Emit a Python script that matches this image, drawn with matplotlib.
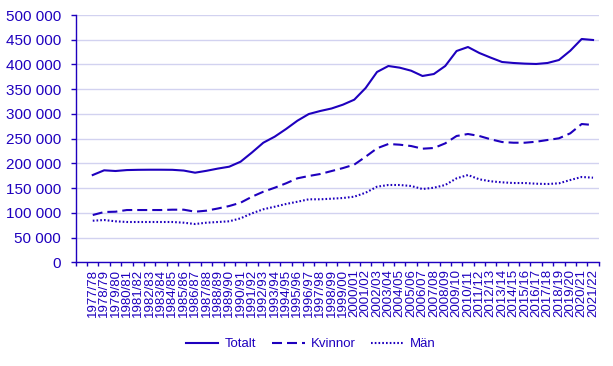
import matplotlib
matplotlib.use("Agg")
import matplotlib.pyplot as plt
from matplotlib.ticker import FuncFormatter, FixedLocator

# colours used by the reference
blue = "#1e00be"
grid_blue = "#d2d2f0"

plt.rcParams['font.family'] = ['Liberation Sans', 'DejaVu Sans']

# Academic years 1977/78 .. 2021/22
years = ["%d/%02d" % (y, (y + 1) % 100) for y in range(1977, 2022)]

# values (number of persons)
totalt = [176500, 186000, 184600, 186500, 187000, 187200, 187200, 187000, 185500, 181200,
          185000, 189500, 193300, 203400, 222000, 241800, 254000, 269500, 286300, 299800,
          305900, 311000, 318700, 328800, 352400, 384800, 396900, 393500, 387400, 376700,
          380700, 396900, 427200, 435300, 423200, 413800, 405000, 403000, 401700, 401000,
          403000, 409000, 427800, 451500, 449500]
kvinnor = [95600, 101700, 102300, 105700, 105700, 105700, 105700, 106400, 106400, 102300,
           104400, 108800, 113800, 120500, 132600, 142700, 150800, 159700, 169800, 174500,
           178500, 184500, 190500, 197500, 213500, 230500, 239200, 237800, 235100, 229700,
           231100, 240500, 255400, 259400, 255400, 248700, 243200, 241800, 241800, 243800,
           247300, 250700, 260800, 279600, 277600]
man = [84100, 85500, 82900, 81500, 81500, 81500, 81500, 81500, 80100, 77400,
       80100, 81500, 82900, 88900, 99000, 107200, 112400, 117900, 122500, 127400,
       127400, 128600, 130000, 132700, 140700, 152900, 156300, 156300, 154300, 148200,
       150800, 156300, 169800, 176500, 167800, 163800, 161700, 160300, 160300, 158900,
       158300, 159700, 166400, 172500, 171100]

fig = plt.figure(figsize=(6.13, 3.66), dpi=100)
ax = fig.add_axes([0.1235, 0.2833, 0.8532, 0.6757])

x = list(range(len(years)))
ax.plot(x, totalt, color=blue, lw=1.5, label="Totalt")
ax.plot(x, kvinnor, color=blue, lw=1.5, linestyle=(0, (4.8, 2.4)), label="Kvinnor")
ax.plot(x, man, color=blue, lw=1.5, linestyle=(0, (0.8, 1)), label="Män")

# y axis
ax.set_ylim(0, 500000)
ax.set_yticks(range(0, 500001, 50000))
ax.yaxis.set_major_formatter(FuncFormatter(lambda v, p: "{:,}".format(int(v)).replace(",", " ")))
ax.grid(axis="y", color=grid_blue, lw=1)
ax.set_axisbelow(True)

# x axis: labels at the categories, ticks at the boundaries
ax.set_xlim(-1.5, len(years) - 0.5)
ax.set_xticks(x)
ax.set_xticklabels(years, rotation=90, fontsize=9.5)
ax.tick_params(axis="x", which="major", length=0, pad=5)
ax.xaxis.set_minor_locator(FixedLocator([i - 0.5 for i in range(-1, len(years) + 1)]))
ax.tick_params(axis="x", which="minor", length=3, color=blue, width=1)
ax.tick_params(axis="y", length=3.6, color=blue, width=1, pad=7, labelsize=11)
ax.tick_params(labelcolor=blue)

for s in ["top", "right"]:
    ax.spines[s].set_visible(False)
for s in ["left", "bottom"]:
    ax.spines[s].set_color(blue)
    ax.spines[s].set_linewidth(1)

leg = fig.legend(loc="center", bbox_to_anchor=(0.507, 0.06), ncol=3, frameon=False,
                 fontsize=9.5, handlelength=2.5, columnspacing=1.2, handletextpad=0.45)
for t in leg.get_texts():
    t.set_color(blue)

fig.savefig("out.png", dpi=100)
